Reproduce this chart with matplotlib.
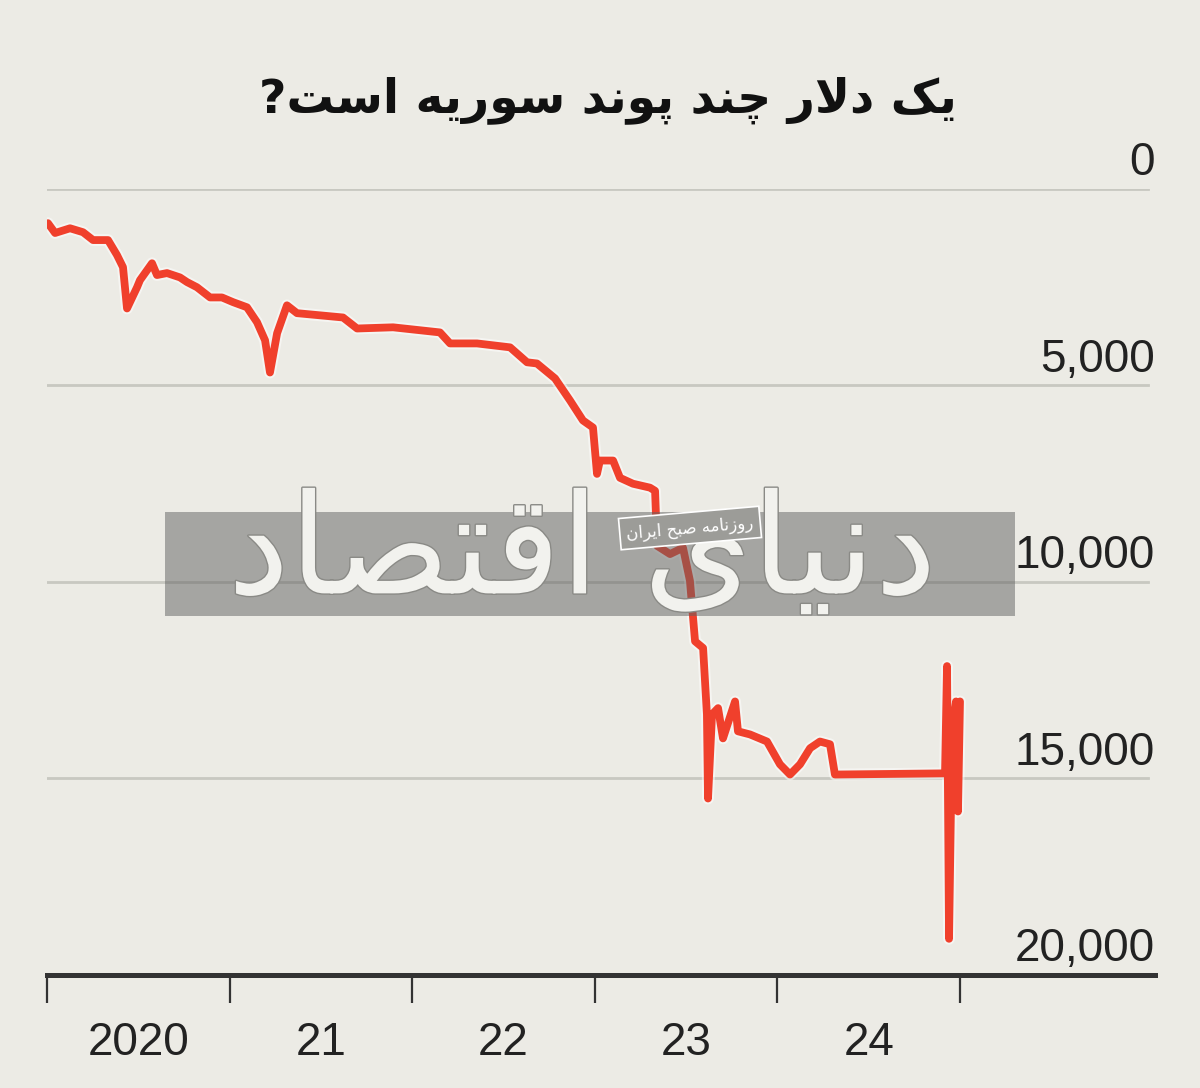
import matplotlib
matplotlib.use("Agg")
import matplotlib.pyplot as plt
import matplotlib.patheffects as pe
from matplotlib.patches import Rectangle

# SYP per USD, time as decimal year
years = [
    2020.005, 2020.044, 2020.126, 2020.197, 2020.252, 2020.334, 2020.383, 2020.416,
    2020.438, 2020.493, 2020.509, 2020.575, 2020.602, 2020.657, 2020.728, 2020.767,
    2020.821, 2020.893, 2020.958,
    2021.019, 2021.095, 2021.150, 2021.194, 2021.221, 2021.260, 2021.314, 2021.369,
    2021.621, 2021.698, 2021.895,
    2022.152, 2022.207, 2022.355, 2022.536, 2022.629, 2022.683, 2022.782, 2022.864,
    2022.935, 2022.990,
    2023.012, 2023.028, 2023.100, 2023.138, 2023.209, 2023.302, 2023.330, 2023.341,
    2023.412, 2023.483, 2023.521, 2023.549, 2023.593, 2023.614, 2023.620, 2023.642,
    2023.675, 2023.702, 2023.768, 2023.784, 2023.850, 2023.943,
    2024.014, 2024.069, 2024.124, 2024.179, 2024.233, 2024.288, 2024.315, 2024.918,
    2024.929, 2024.940, 2024.951, 2024.962, 2024.978, 2024.989, 2025.000,
]
rate = [
    870, 1120, 1000, 1100, 1300, 1300, 1680, 1990,
    3040, 2500, 2320, 1890, 2190, 2140, 2250, 2370,
    2500, 2760, 2760,
    2880, 3010, 3390, 3850, 4670, 3670, 2960, 3160,
    3270, 3550, 3520,
    3650, 3930, 3930, 4030, 4410, 4440, 4820, 5380,
    5890, 6070,
    7250, 6910, 6910, 7350, 7500, 7600, 7680, 9080,
    9290, 9130, 9970, 11510, 11680, 13370, 15510, 13370,
    13210, 13980, 13040, 13800, 13880, 14060,
    14640, 14900, 14640, 14230, 14060, 14130, 14900, 14870,
    12140, 19080, 15590, 13550, 13040, 15840, 13040,
]

year_ticks = [2020, 2021, 2022, 2023, 2024, 2025]
year_labels = ["2020", "21", "22", "23", "24"]
rate_ticks = [0, 5000, 10000, 15000, 20000]
rate_labels = ["0", "5,000", "10,000", "15,000", "20,000"]

# Persian strings, pre-shaped (presentation forms) and in visual order,
# since matplotlib does no arabic shaping / bidi
# "یک دلار چند پوند سوریه است؟"
title = ("?\uFE96\uFEB3\uFE8D \uFEEA\uFBFE\uFEAD\uFEEE\uFEB3 \uFEAA\uFEE7\uFEEE\uFB58 "
         "\uFEAA\uFEE8\uFB7C \uFEAD\uFEFB\uFEA9 \uFB8F\uFBFE")
# "دنیای اقتصاد"
wm_big = "\uFEA9\uFE8E\uFEBC\uFE98\uFED7\uFE8D \uFBFC\uFE8E\uFBFF\uFEE7\uFEA9"
# "روزنامه صبح ایران"
wm_small = ("\uFEE5\uFE8D\uFEAE\uFBFE\uFE8D \uFEA2\uFE92\uFEBB "
            "\uFEEA\uFEE3\uFE8E\uFEE7\uFEAF\uFEED\uFEAD")

bg = "#ecebe5"
red = "#f0402c"
dark = "#333333"
num_font = ["Liberation Sans Narrow", "Liberation Sans"]

fig = plt.figure(figsize=(12, 10.88), dpi=100, facecolor=bg)
ax = fig.add_axes([0.0392, 0.1039, 0.9233, 0.7224])
ax.set_facecolor("none")

ax.set_xlim(2020, 2026.068)
ax.set_ylim(20000, 0)

for v in rate_ticks[:-1]:
    ax.axhline(v, xmin=0, xmax=0.994, color="#c8c8c1", lw=2, zorder=1)

ax.plot(years, rate, color=red, lw=5.6, zorder=3, solid_joinstyle="round",
        solid_capstyle="round",
        path_effects=[pe.Stroke(linewidth=8.5, foreground="white", alpha=0.5), pe.Normal()])

for s in ["top", "left", "right"]:
    ax.spines[s].set_visible(False)
ax.spines["bottom"].set_color(dark)
ax.spines["bottom"].set_linewidth(3.6)

ax.set_yticks([])
ax.set_xticks(year_ticks)
ax.set_xticklabels([])
ax.tick_params(axis="x", which="major", length=20, width=1.6, color=dark, direction="out")
ax.set_xticks([y + 0.5 for y in year_ticks[:-1]], minor=True)
ax.set_xticklabels(year_labels, minor=True, fontsize=33, family=num_font, color="#222222")
ax.tick_params(axis="x", which="minor", length=0, pad=33)

for v, lab in zip(rate_ticks, rate_labels):
    ax.annotate(lab, xy=(1.0, v), xycoords=("axes fraction", "data"),
                xytext=(0, 10), textcoords="offset points", ha="right", va="baseline",
                fontsize=33, family=num_font, color="#222222")

fig.text(0.507, 0.908, title, ha="center", va="center", fontsize=34,
         fontweight="bold", family="DejaVu Sans", color="#111111")

# watermark
fig.patches.append(Rectangle((0.1375, 0.4338), 0.7083, 0.0956, transform=fig.transFigure,
                             facecolor="#606060", alpha=0.5, edgecolor="none", zorder=5))
fig.text(0.485, 0.49, wm_big, ha="center", va="center", fontsize=100,
         family="DejaVu Sans", color="#f2f2ee", zorder=6,
         path_effects=[pe.withStroke(linewidth=2, foreground="#8a8a86")])
fig.text(0.575, 0.5147, wm_small, ha="center", va="center", fontsize=12, rotation=5,
         family="DejaVu Sans", color="white", zorder=7,
         bbox=dict(boxstyle="square,pad=0.4", facecolor="#9c9c98", edgecolor="white", lw=1.2))

fig.savefig("out.png", dpi=100, facecolor=bg)
